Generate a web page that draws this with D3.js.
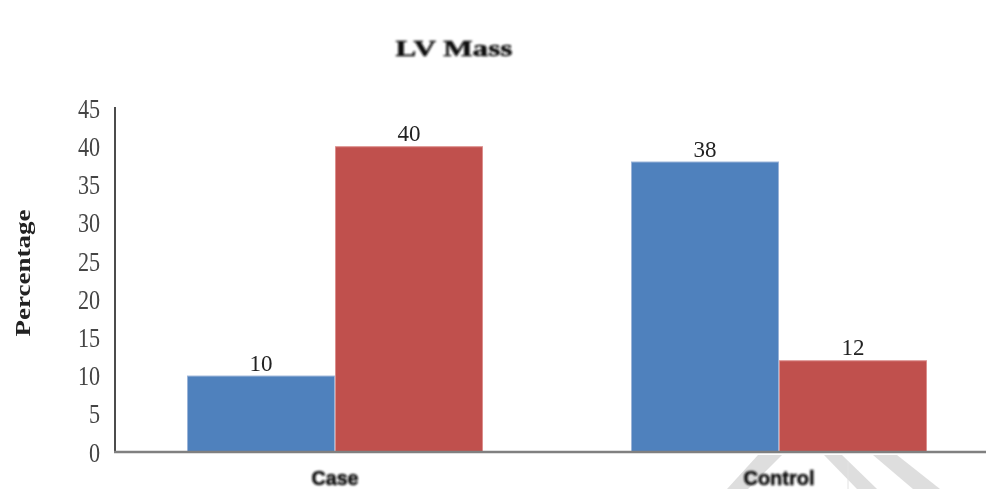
<!DOCTYPE html>
<html>
<head>
<meta charset="utf-8">
<script src="https://cdn.jsdelivr.net/npm/d3@7"></script>
<style>
  html, body { margin: 0; padding: 0; background: #fff; }
  svg { display: block; }
</style>
</head>
<body>
<svg id="chart" width="986" height="489"></svg>
<script>
// LV mass distribution (%) by group
const categories = ["Case", "Control"];
const seriesNames = ["Series A", "Series B"];
const seriesA = [10, 38];
const seriesB = [40, 12];
const yTicks = [0, 5, 10, 15, 20, 25, 30, 35, 40, 45];
const colors = ["#4F81BD", "#C0504D"];
const edgeColors = ["#9bb4d8", "#dc8f8d"];

const svg = d3.select("#chart");
const defs = svg.append("defs");
defs.append("filter").attr("id", "soft").append("feGaussianBlur").attr("stdDeviation", 0.5);
defs.append("filter").attr("id", "softer").append("feGaussianBlur").attr("stdDeviation", 1);

const x0 = 113, x1 = 1001, yBase = 452, yTop = 108;

const x = d3.scaleBand().domain(categories).range([x0, x1]).paddingInner(1 / 3).paddingOuter(1 / 6);
const xs = d3.scaleBand().domain(seriesNames).range([0, x.bandwidth()]);
const y = d3.scaleLinear().domain([0, 45]).range([yBase, yTop]);

// faint background mark in the lower right
const wm = svg.append("g").attr("fill", "#dedede");
wm.append("polygon").attr("points", "758,455 782,455 748,489 727,489");
wm.append("polygon").attr("points", "824,455 842,455 877,489 857,489");
wm.append("polygon").attr("points", "873,455 897,455 940,489 913,489");
wm.append("line").attr("x1", 848).attr("x2", 848).attr("y1", 462).attr("y2", 489)
  .attr("stroke", "#e2e2e2").attr("stroke-width", 1);

const rows = categories.map((c, i) => ({ cat: c, vals: [seriesA[i], seriesB[i]] }));

const groups = svg.append("g").selectAll("g").data(rows).join("g")
  .attr("transform", d => `translate(${x(d.cat)},0)`);

groups.selectAll("rect").data(d => d.vals.map((v, j) => ({ v, j }))).join("rect")
  .attr("x", d => xs(seriesNames[d.j]) + 0.5)
  .attr("y", d => y(d.v) + 0.5)
  .attr("width", xs.bandwidth() - 1)
  .attr("height", d => yBase - y(d.v) - 0.5)
  .attr("fill", d => colors[d.j])
  .attr("stroke", d => edgeColors[d.j])
  .attr("stroke-width", 1);

// value labels
groups.selectAll("text").data(d => d.vals.map((v, j) => ({ v, j }))).join("text")
  .attr("x", d => xs(seriesNames[d.j]) + xs.bandwidth() / 2)
  .attr("y", d => y(d.v) - 5)
  .attr("text-anchor", "middle")
  .attr("font-family", "Liberation Serif, serif")
  .attr("font-size", 23)
  .attr("fill", "#222")
  .attr("filter", "url(#soft)")
  .text(d => d.v);

// y axis
const yAxis = d3.axisLeft(y).tickValues(yTicks).tickSize(0).tickPadding(0);
const yg = svg.append("g").attr("transform", "translate(100,0)").call(yAxis);
yg.select(".domain").remove();
yg.selectAll("text")
  .attr("font-family", "Liberation Serif, serif")
  .attr("font-size", 27)
  .attr("fill", "#444")
  .attr("dy", "0.34em")
  .attr("filter", "url(#soft)")
  .style("transform-box", "fill-box")
  .style("transform-origin", "right center")
  .style("transform", "scaleX(0.82)");

svg.append("line")
  .attr("x1", 115).attr("x2", 115).attr("y1", yTop - 1).attr("y2", yBase)
  .attr("stroke", "#111").attr("stroke-width", 1.5);

// x axis
const xAxis = d3.axisBottom(x).tickSize(0).tickPadding(0);
const xg = svg.append("g").attr("transform", `translate(0,${yBase})`).call(xAxis);
xg.select(".domain").remove();
xg.selectAll("text")
  .attr("y", 26)
  .attr("dy", "0.35em")
  .attr("font-family", "Liberation Sans, sans-serif")
  .attr("font-weight", "bold")
  .attr("font-size", 21)
  .attr("fill", "#111")
  .attr("stroke", "#111")
  .attr("stroke-width", 0.6)
  .attr("filter", "url(#softer)")
  .attr("textLength", d => d === "Case" ? 47 : 71)
  .attr("lengthAdjust", "spacingAndGlyphs");

svg.append("line")
  .attr("x1", 114).attr("x2", 986).attr("y1", yBase).attr("y2", yBase)
  .attr("stroke", "#808080").attr("stroke-width", 2.5);

// axis title
svg.append("text")
  .attr("transform", "translate(30,273) rotate(-90)")
  .attr("text-anchor", "middle")
  .attr("font-family", "Liberation Serif, serif")
  .attr("font-weight", "bold")
  .attr("font-size", 21)
  .attr("fill", "#222")
  .attr("textLength", 127)
  .attr("lengthAdjust", "spacingAndGlyphs")
  .attr("filter", "url(#soft)")
  .text("Percentage");

// chart title
svg.append("text")
  .attr("x", 454).attr("y", 56)
  .attr("text-anchor", "middle")
  .attr("font-family", "Liberation Serif, serif")
  .attr("font-weight", "bold")
  .attr("font-size", 24)
  .attr("fill", "#111")
  .attr("stroke", "#111")
  .attr("stroke-width", 0.5)
  .attr("textLength", 117)
  .attr("lengthAdjust", "spacingAndGlyphs")
  .attr("filter", "url(#softer)")
  .text("LV Mass");
</script>
</body>
</html>
